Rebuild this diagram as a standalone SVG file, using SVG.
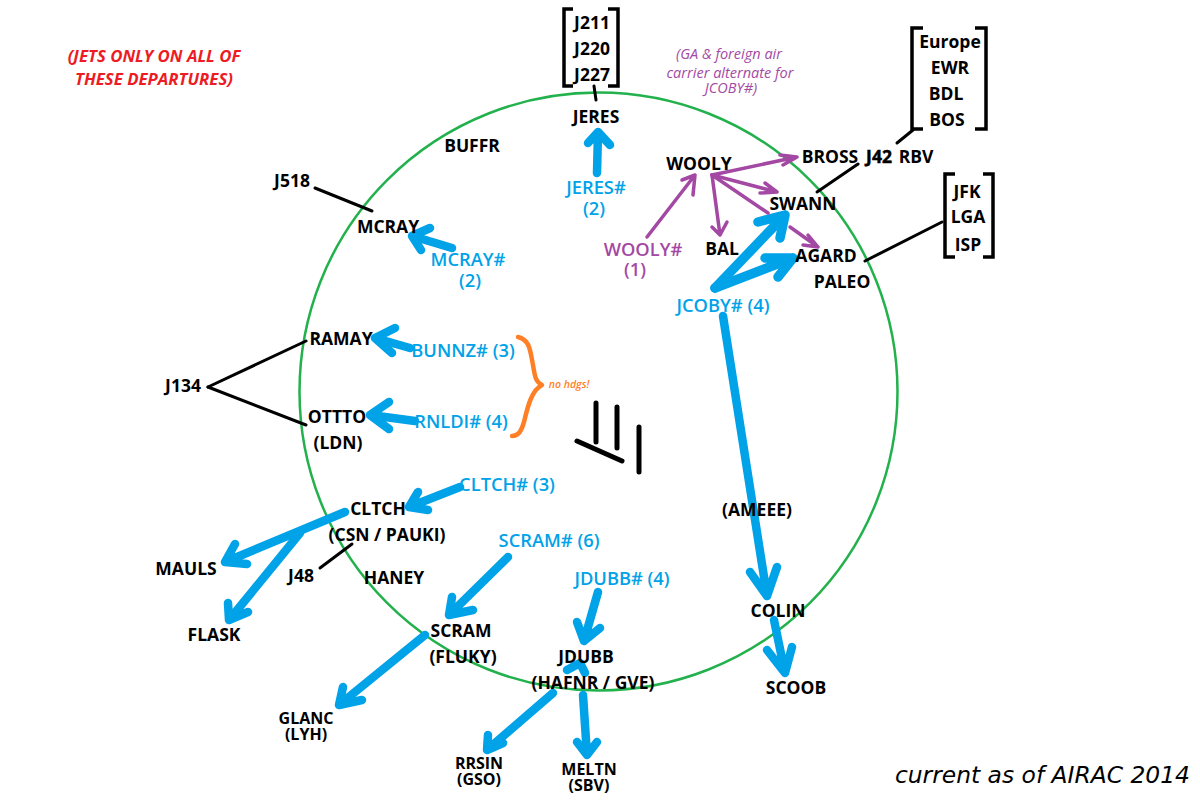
<svg xmlns="http://www.w3.org/2000/svg" width="1200" height="800" viewBox="0 0 1200 800">
<style>
text{font-family:"Open Sans","Noto Sans","Liberation Sans",sans-serif;text-anchor:middle}
.n{font-size:17.5px;font-weight:700;fill:#000}
.x{stroke:#000;stroke-width:.5}
.s{font-size:16px;font-weight:700;fill:#000}
.b{font-size:18.3px;font-weight:600;fill:#00a2e8}
.p{font-size:18.3px;font-weight:600;fill:#a349a4}
.note{font-size:14.5px;font-style:italic;fill:#a349a4}
.red{font-size:16.8px;font-weight:700;font-style:italic;fill:#ed1c24}
.or{font-size:10.5px;font-weight:600;font-style:italic;fill:#ff7f27}
.foot{font-family:"DejaVu Sans",sans-serif;font-size:23.4px;font-style:italic;fill:#000;text-anchor:end}
path,line,polyline{fill:none;stroke-linecap:round;stroke-linejoin:round}
.blue{stroke:#00a2e8;stroke-width:8.5}
.blueH{stroke:#00a2e8;stroke-width:9.5}
.pur{stroke:#a349a4;stroke-width:3.5}
.blk{stroke:#000;stroke-width:3}
.brk{stroke:#000;stroke-width:3.5;stroke-linecap:butt;stroke-linejoin:miter}
.tally{stroke:#000;stroke-width:5}
</style>
<circle id="ring" cx="598.5" cy="391.5" r="299" fill="none" stroke="#22b14c" stroke-width="2.5"/>
<g id="connectors">
<g id="blue-arrows">
<path class="blue" d="M597 173L598 132M588 143L598 132L610 145"/>
<path class="blue" d="M452 248L412 236M430 228L412 236L421 250"/>
<path class="blue" d="M410 348L375 338M395 328L375 338L392 353"/>
<path class="blue" d="M415 421L370 415M389 402L370 415L389 429"/>
<path class="blue" d="M460 487L409 507M418 492L409 507L428 510"/>
<path class="blue" d="M345 512L225 562M235 544L225 562L247 564"/>
<path class="blue" d="M300 533L229 620M228 603L229 620L248 612"/>
<path class="blue" d="M425 635L339 705M343 687L339 705L362 700"/>
<path class="blue" d="M508 557L449 615M452 597L449 615L473 610"/>
<path class="blue" d="M598 592L584 641M577 622L584 641L600 628"/>
<path class="blue" d="M553 693L487 750M488 735L487 750L503 743"/>
<path class="blue" d="M567 670L580 663L585 673"/>
<path class="blue" d="M583 695L587 755M577 742L587 755L597 742"/>
<path class="blue" d="M774 620L785 673M767 650L785 673L792 647"/>
<path class="blue" d="M723 316L767 596M750 572L767 596L777 567"/>
<path class="blueH" d="M715 288L785 215M758 222L785 215L780 238"/>
<path class="blueH" d="M715 288L793 258M765 258L793 258L778 277"/>
</g>
<g id="purple-arrows">
<path class="pur" d="M647 237L695 175M682 180L695 175L693 195"/>
<path class="pur" d="M712 175L797 157M780 155L797 157L783 165"/>
<path class="pur" d="M712 175L777 192M765 183L777 192L760 193"/>
<path class="pur" d="M712 175L720 235M712 227L720 235L727 222"/>
<path class="pur" d="M712 175L768 213"/>
<path class="pur" d="M790 227L818 247M808 235L818 247L803 245"/>
</g>
<g id="black-lines">
<line class="blk" x1="594" y1="86" x2="596" y2="100"/>
<line class="blk" x1="897" y1="143" x2="913" y2="130"/>
<line class="blk" x1="858" y1="164" x2="817" y2="192"/>
<line class="blk" x1="942" y1="222" x2="865" y2="261"/>
<line class="blk" x1="208" y1="387" x2="306" y2="341"/>
<line class="blk" x1="208" y1="387" x2="306" y2="425"/>
<line class="blk" x1="315" y1="188" x2="372" y2="211"/>
<line class="blk" x1="320" y1="568" x2="352" y2="544"/>
</g>
</g>
<g id="brackets">
<polyline class="brk" points="573,9 564,9 564,86 573,86"/>
<polyline class="brk" points="608,9 618,9 618,86 608,86"/>
<polyline class="brk" points="923,28 912,28 912,129 923,129"/>
<polyline class="brk" points="975,28 986,28 986,129 975,129"/>
<polyline class="brk" points="955,174 945,174 945,257 955,257"/>
<polyline class="brk" points="983,174 993,174 993,257 983,257"/>
</g>
<path id="brace" d="M518 337C530 340 530 350 533 365C535 378 536 382 542 385C532 390 528 405 524 422C521 432 518 436 512 436" fill="none" stroke="#ff7f27" stroke-width="4.5"/>
<g id="tally">
<line class="tally" x1="596" y1="403" x2="596" y2="442"/>
<line class="tally" x1="617" y1="407" x2="617" y2="448"/>
<line class="tally" x1="639" y1="427" x2="639" y2="472"/>
<line class="tally" x1="577" y1="441" x2="622" y2="461"/>
</g>
<g id="labels" transform="translate(0,1)">
<g id="n-buffr"><text class="n" x="472" y="151">BUFFR</text></g>
<g id="n-jeres"><text class="n" x="596" y="122">JERES</text></g>
<g id="n-jroutes"><text class="n" x="592" y="28">J211</text><text class="n" x="592" y="54">J220</text><text class="n" x="592" y="80">J227</text></g>
<g id="n-europe"><text class="n" x="950" y="47">Europe</text><text class="n" x="950" y="73">EWR</text><text class="n" x="946" y="99">BDL</text><text class="n" x="947" y="125">BOS</text></g>
<g id="n-bross"><text class="n" x="830" y="162">BROSS</text></g>
<g id="n-j42"><text class="n x" x="879" y="162">J42</text></g>
<g id="n-rbv"><text class="n" x="916" y="162">RBV</text></g>
<g id="n-nyc"><text class="n" x="967" y="197">JFK</text><text class="n" x="968" y="222">LGA</text><text class="n" x="968" y="250">ISP</text></g>
<g id="n-wooly"><text class="n" x="699" y="169">WOOLY</text></g>
<g id="n-swann"><text class="n" x="803" y="209">SWANN</text></g>
<g id="n-bal"><text class="n" x="722" y="254">BAL</text></g>
<g id="n-agard"><text class="n" x="826" y="261">AGARD</text></g>
<g id="n-paleo"><text class="n" x="842" y="287">PALEO</text></g>
<g id="n-j518"><text class="n" x="292" y="186">J518</text></g>
<g id="n-mcray"><text class="n" x="388" y="232">MCRAY</text></g>
<g id="n-ramay"><text class="n" x="341" y="344">RAMAY</text></g>
<g id="n-ottto"><text class="n" x="337" y="422">OTTTO</text><text class="n" x="338" y="448">(LDN)</text></g>
<g id="n-j134"><text class="n" x="183" y="391">J134</text></g>
<g id="n-cltch"><text class="n" x="378" y="514">CLTCH</text><text class="n" x="387" y="540">(CSN / PAUKI)</text></g>
<g id="n-mauls"><text class="n" x="186" y="574">MAULS</text></g>
<g id="n-j48"><text class="n" x="301" y="581">J48</text></g>
<g id="n-haney"><text class="n" x="394" y="583">HANEY</text></g>
<g id="n-flask"><text class="n" x="214" y="640">FLASK</text></g>
<g id="n-scram"><text class="n" x="461" y="636">SCRAM</text><text class="n" x="463" y="662">(FLUKY)</text></g>
<g id="n-jdubb"><text class="n" x="586" y="662">JDUBB</text><text class="n" x="593" y="688">(HAFNR / GVE)</text></g>
<g id="n-glanc"><text class="s" x="306" y="723">GLANC</text><text class="s" x="306" y="739">(LYH)</text></g>
<g id="n-rrsin"><text class="s" x="479" y="768">RRSIN</text><text class="s" x="479" y="784">(GSO)</text></g>
<g id="n-meltn"><text class="s" x="589" y="774">MELTN</text><text class="s" x="589" y="790">(SBV)</text></g>
<g id="n-colin"><text class="n" x="778" y="616">COLIN</text></g>
<g id="n-scoob"><text class="n" x="796" y="693">SCOOB</text></g>
<g id="n-ameee"><text class="n" x="757" y="515">(AMEEE)</text></g>
<g id="d-jeres"><text class="b" x="596" y="193">JERES#</text><text class="b" x="594" y="214">(2)</text></g>
<g id="d-mcray"><text class="b" x="468" y="265">MCRAY#</text><text class="b" x="470" y="286">(2)</text></g>
<g id="d-bunnz"><text class="b" x="463" y="356">BUNNZ# (3)</text></g>
<g id="d-rnldi"><text class="b" x="461" y="427">RNLDI# (4)</text></g>
<g id="d-cltch"><text class="b" x="507" y="490">CLTCH# (3)</text></g>
<g id="d-scram"><text class="b" x="549" y="546">SCRAM# (6)</text></g>
<g id="d-jdubb"><text class="b" x="622" y="584">JDUBB# (4)</text></g>
<g id="d-jcoby"><text class="b" x="723" y="311">JCOBY# (4)</text></g>
<g id="d-wooly"><text class="p" x="643" y="255">WOOLY#</text><text class="p" x="635" y="275">(1)</text></g>
<g id="note-ga"><text class="note" x="729" y="58">(GA &amp; foreign air</text><text class="note" x="730" y="77">carrier alternate for</text><text class="note" x="731" y="92">JCOBY#)</text></g>
<g id="note-jets"><text class="red" x="154" y="61">(JETS ONLY ON ALL OF</text><text class="red" x="154" y="84">THESE DEPARTURES)</text></g>
<g id="note-hdgs"><text class="or" x="569" y="387">no hdgs!</text></g>
<g id="footer"><text class="foot" x="1190" y="782">current as of AIRAC 2014</text></g>
</g>
</svg>
